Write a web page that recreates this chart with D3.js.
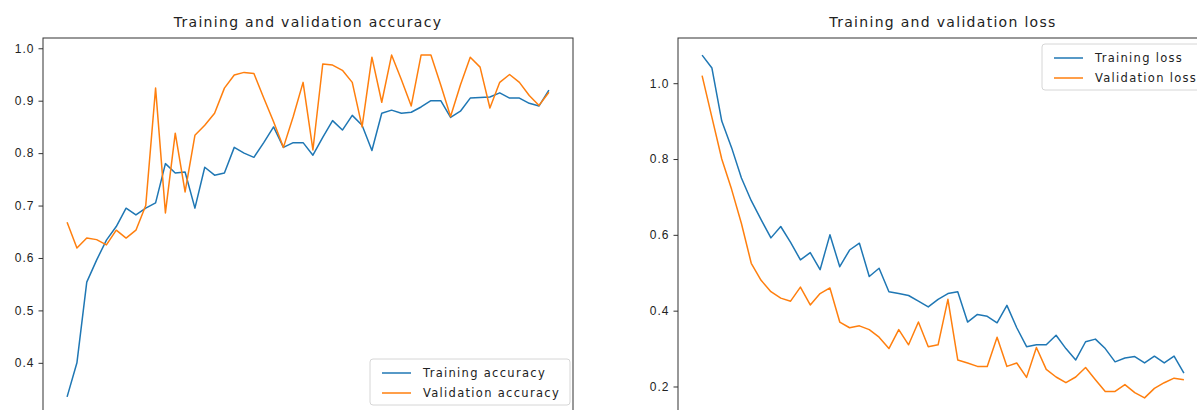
<!DOCTYPE html>
<html>
<head>
<meta charset="utf-8">
<script src="https://cdn.jsdelivr.net/npm/d3@7"></script>
<style>
  body { margin: 0; background: #fff; }
  svg { display: block; font-family: "DejaVu Sans", sans-serif; }
  .frame { fill: none; stroke: #333; stroke-width: 1; }
  .tick text { font-size: 12px; fill: #222; letter-spacing: 1px; }
  .tick line { stroke: #333; }
  .title { font-size: 14px; fill: #222; text-anchor: middle; letter-spacing: 1.3px; }
  .legend-box { fill: #fff; fill-opacity: 0.8; stroke: #d6d6d6; stroke-width: 1; }
  .legend-text { font-size: 11.5px; fill: #222; letter-spacing: 1.3px; }
</style>
</head>
<body>
<div id="chart"></div>
<script>
var epochs = [1,2,3,4,5,6,7,8,9,10,11,12,13,14,15,16,17,18,19,20,21,22,23,24,25,
              26,27,28,29,30,31,32,33,34,35,36,37,38,39,40,41,42,43,44,45,46,47,48,49,50];

var trainAcc = [0.335,0.40,0.554,0.596,0.634,0.66,0.695,0.682,0.695,0.705,
                0.78,0.762,0.764,0.695,0.773,0.758,0.762,0.811,0.80,0.792,
                0.82,0.85,0.811,0.82,0.82,0.796,0.83,0.862,0.844,0.872,
                0.853,0.805,0.876,0.882,0.876,0.878,0.888,0.90,0.90,0.868,
                0.88,0.905,0.906,0.907,0.915,0.905,0.905,0.895,0.89,0.92];
var valAcc = [0.668,0.619,0.638,0.635,0.625,0.653,0.638,0.653,0.70,0.924,
              0.686,0.838,0.726,0.834,0.853,0.876,0.924,0.949,0.954,0.952,
              0.905,0.86,0.811,0.87,0.935,0.806,0.97,0.968,0.958,0.935,
              0.85,0.983,0.897,0.987,0.94,0.89,0.987,0.987,0.93,0.87,
              0.93,0.983,0.964,0.886,0.935,0.95,0.935,0.91,0.891,0.916];
var trainLoss = [1.074,1.04,0.90,0.83,0.75,0.69,0.64,0.592,0.622,0.58,
                 0.534,0.553,0.508,0.60,0.516,0.56,0.578,0.49,0.512,0.45,
                 0.445,0.44,0.425,0.41,0.43,0.445,0.45,0.37,0.39,0.385,
                 0.368,0.414,0.355,0.305,0.31,0.31,0.335,0.30,0.27,0.318,
                 0.325,0.30,0.265,0.275,0.279,0.262,0.28,0.262,0.28,0.235];
var valLoss = [1.02,0.91,0.80,0.72,0.63,0.525,0.48,0.45,0.433,0.425,
               0.462,0.415,0.445,0.46,0.37,0.355,0.36,0.35,0.33,0.30,
               0.35,0.31,0.37,0.305,0.31,0.43,0.27,0.262,0.253,0.253,
               0.33,0.253,0.262,0.224,0.303,0.245,0.225,0.21,0.225,0.25,
               0.218,0.187,0.187,0.205,0.184,0.17,0.195,0.21,0.222,0.218];

var accTicks = [0.4,0.5,0.6,0.7,0.8,0.9,1.0];
var lossTicks = [0.2,0.4,0.6,0.8,1.0];

var accTitle = "Training and validation accuracy";
var lossTitle = "Training and validation loss";
var accLabels = ["Training accuracy", "Validation accuracy"];
var lossLabels = ["Training loss", "Validation loss"];

var blue = "#1f77b4", orange = "#ff7f0e";
var width = 1197, height = 410;

var svg = d3.select("#chart").append("svg")
    .attr("width", width)
    .attr("height", height);

// matplotlib-style 5% margins around the data
function padded(extent) {
  var pad = (extent[1] - extent[0]) * 0.05;
  return [extent[0] - pad, extent[1] + pad];
}

function drawPanel(p) {
  var g = svg.append("g").attr("transform", "translate(" + p.left + "," + p.top + ")");
  var w = p.w, h = p.h;

  var x = d3.scaleLinear()
      .domain(padded(d3.extent(epochs)))
      .range([0, w]);
  var y = d3.scaleLinear()
      .domain(padded(d3.extent(p.a.concat(p.b))))
      .range([h, 0]);

  var yAxis = d3.axisLeft(y)
      .tickValues(p.ticks)
      .tickFormat(d3.format(".1f"))
      .tickSize(4.5)
      .tickPadding(4);

  g.append("g").attr("class", "y axis").call(yAxis)
    .call(function(s) { s.select(".domain").remove(); });

  var line = d3.line()
      .x(function(d, i) { return x(epochs[i]); })
      .y(function(d) { return y(d); });

  var series = [{ v: p.a, c: blue }, { v: p.b, c: orange }];
  g.selectAll("path.series")
      .data(series)
      .enter().append("path")
      .attr("class", "series")
      .attr("d", function(d) { return line(d.v); })
      .attr("fill", "none")
      .attr("stroke", function(d) { return d.c; })
      .attr("stroke-width", 1.5)
      .attr("stroke-linejoin", "round");

  g.append("rect").attr("class", "frame")
      .attr("x", 0).attr("y", 0).attr("width", w).attr("height", h);

  g.append("text").attr("class", "title")
      .attr("x", w / 2).attr("y", -11)
      .text(p.title);

  // legend
  var lg = g.append("g").attr("transform", "translate(" + p.legX + "," + p.legY + ")");
  lg.append("rect").attr("class", "legend-box")
      .attr("x", 0).attr("y", 0)
      .attr("width", p.legW).attr("height", 46)
      .attr("rx", 3);
  var item = lg.selectAll("g.item")
      .data(series)
      .enter().append("g")
      .attr("class", "item")
      .attr("transform", function(d, i) { return "translate(0," + (14 + i * 20) + ")"; });
  item.append("line")
      .attr("x1", 12).attr("x2", 41)
      .attr("stroke", function(d) { return d.c; })
      .attr("stroke-width", 1.5);
  item.append("text").attr("class", "legend-text")
      .attr("x", 53).attr("dy", "0.35em")
      .text(function(d, i) { return p.labels[i]; });
}

drawPanel({ left: 43, top: 38, w: 530, h: 376, a: trainAcc, b: valAcc,
            ticks: accTicks, title: accTitle, labels: accLabels,
            legX: 327, legY: 321, legW: 200 });

drawPanel({ left: 678, top: 38, w: 530, h: 377, a: trainLoss, b: valLoss,
            ticks: lossTicks, title: lossTitle, labels: lossLabels,
            legX: 364, legY: 6, legW: 170 });
</script>
</body>
</html>
